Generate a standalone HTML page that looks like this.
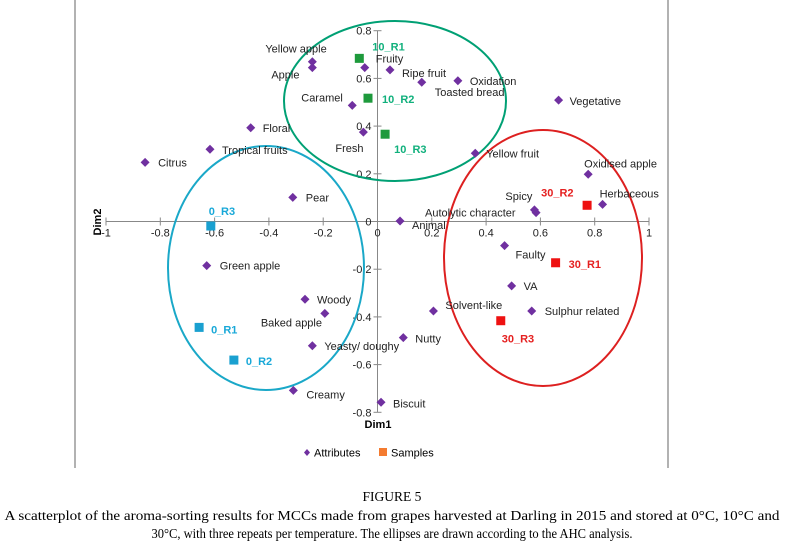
<!DOCTYPE html>
<html><head><meta charset="utf-8"><style>
html,body{margin:0;padding:0;background:#fff;}
svg{display:block;font-family:"Liberation Sans",sans-serif;}
</style></head><body>
<svg id="c" width="785" height="549">
<line x1="75" y1="0" x2="75" y2="468" stroke="#999" stroke-width="1.5"/>
<line x1="668" y1="0" x2="668" y2="468" stroke="#999" stroke-width="1.5"/>
<g id="axes"></g>
<g id="ell"></g>
<g id="pts"></g>
<text x="101" y="222" transform="rotate(-90 101 222)" text-anchor="middle" font-size="11" font-weight="bold">Dim2</text>
<text x="378" y="428" text-anchor="middle" font-size="11" font-weight="bold">Dim1</text>
<g>
<path d="M307 449 l3 3.5 l-3 3.5 l-3 -3.5z" fill="#7030a0"/>
<text x="314" y="456.5" font-size="11">Attributes</text>
<rect x="379" y="448" width="8" height="8" fill="#f47b30"/>
<text x="391" y="456.5" font-size="11">Samples</text>
</g>
<g font-family="Liberation Serif,serif" font-size="13.5" text-anchor="middle">
<text x="392" y="501">FIGURE 5</text>
<text x="392" y="520" textLength="775" lengthAdjust="spacingAndGlyphs">A scatterplot of the aroma-sorting results for MCCs made from grapes harvested at Darling in 2015 and stored at 0°C, 10°C and</text>
<text x="392" y="538" textLength="481" lengthAdjust="spacingAndGlyphs">30°C, with three repeats per temperature. The ellipses are drawn according to the AHC analysis.</text>
</g>
</svg>
<script>
const attrNames=["Yellow apple","Apple","Fruity","Ripe fruit","Toasted bread","Oxidation","Vegetative","Caramel","Fresh","Floral","Tropical fruits","Citrus","Pear","Animal","Yellow fruit","Oxidised apple","Herbaceous","Spicy","Autolytic character","Faulty","Green apple","Woody","Baked apple","Solvent-like","VA","Sulphur related","Nutty","Yeasty/ doughy","Creamy","Biscuit"];
const attrX=[-0.24,-0.24,-0.047,0.046,0.163,0.296,0.667,-0.093,-0.052,-0.467,-0.617,-0.856,-0.312,0.083,0.36,0.776,0.829,0.578,0.584,0.468,-0.629,-0.267,-0.194,0.206,0.494,0.568,0.095,-0.24,-0.31,0.013];
const attrY=[0.67,0.645,0.645,0.636,0.584,0.59,0.509,0.487,0.375,0.393,0.303,0.248,0.101,0.002,0.286,0.198,0.072,0.049,0.037,-0.101,-0.185,-0.326,-0.385,-0.375,-0.27,-0.375,-0.487,-0.521,-0.708,-0.758];
const sampleNames=["10_R1","10_R2","10_R3","0_R3","0_R1","0_R2","30_R2","30_R1","30_R3"];
const sampleX=[-0.067,-0.035,0.028,-0.614,-0.657,-0.529,0.772,0.656,0.454];
const sampleY=[0.684,0.517,0.366,-0.019,-0.444,-0.581,0.068,-0.173,-0.416];
const xTicks=[-1,-0.8,-0.6,-0.4,-0.2,0,0.2,0.4,0.6,0.8,1];
const yTicks=[-0.8,-0.6,-0.4,-0.2,0,0.2,0.4,0.6,0.8];
// styling / label offsets (pixels)
const attrOff=[[-47,-13],[-41,7],[11,-9],[12,3],[13,10],[12,0],[11,1],[-51,-8],[-28,16],[12,0],[12,1],[13,0],[13,0],[12,4],[11,0],[-4,-11],[-3,-11],[-29,-14],[-111,0],[11,9],[13,0],[12,0],[-64,9],[12,-6],[12,0],[13,0],[12,1],[12,0],[13,4],[12,1]];
const sampleOff=[[13,-12],[14,1],[9,15],[-2,-15],[12,2],[12,1],[-46,-13],[13,1],[1,18]];
const sampleFill=["#1e9a3c","#1e9a3c","#1e9a3c","#1aa0d0","#1aa0d0","#1aa0d0","#ee1111","#ee1111","#ee1111"];
const sampleText=["#10b07c","#10b07c","#10b07c","#18a8d8","#18a8d8","#18a8d8","#e52020","#e52020","#e52020"];
const X=v=>377.5+v*271.5, Y=v=>221.5-v*238.5;
const NS="http://www.w3.org/2000/svg";
function mk(t,a,p){const e=document.createElementNS(NS,t);for(const k in a)e.setAttribute(k,a[k]);p.appendChild(e);return e;}
const ax=document.getElementById('axes');
let e=mk('line',{x1:X(-1),x2:X(1),y1:Y(0),y2:Y(0),stroke:'#888'},ax);


e=mk('line',{x1:X(0),x2:X(0),y1:Y(0.8),y2:Y(-0.8),stroke:'#888'},ax);


xTicks.forEach(t=>{
 mk('line',{x1:X(t),x2:X(t),y1:Y(0)-4,y2:Y(0)+4,stroke:'#888'},ax);
 const tx=mk('text',{x:X(t),y:Y(0)+15,'font-size':11,'text-anchor':'middle',fill:'#222'},ax);tx.textContent=String(t);
 
 
});
yTicks.forEach(t=>{
 mk('line',{x1:X(0)-4,x2:X(0)+4,y1:Y(t),y2:Y(t),stroke:'#888'},ax);
 const tx=mk('text',{x:X(0)-6,y:Y(t)+4,'font-size':11,'text-anchor':'end',fill:'#222'},ax);tx.textContent=String(t);
 
 
});
const eg=document.getElementById('ell');
[[395,101,111,80,'#00a074','ellipse-10c'],[266,268,98,122,'#1aa8c8','ellipse-0c'],[543,258,99,128,'#dd2020','ellipse-30c']].forEach(a=>{
 const el=mk('ellipse',{cx:a[0],cy:a[1],rx:a[2],ry:a[3],fill:'none',stroke:a[4],'stroke-width':2},eg);
 
 
});
const pg=document.getElementById('pts');
attrNames.forEach((n,i)=>{
 const x=X(attrX[i]),y=Y(attrY[i]);
 const p=mk('path',{d:`M${x} ${y-4.5}l4.5 4.5l-4.5 4.5l-4.5 -4.5z`,fill:'#7030a0'},pg);
 
 
 const t=mk('text',{x:x+attrOff[i][0],y:y+attrOff[i][1]+4,'font-size':11,fill:'#222'},pg);t.textContent=n;
 
 
});
sampleNames.forEach((n,i)=>{
 const x=X(sampleX[i]),y=Y(sampleY[i]);
 const r=mk('rect',{x:x-4.5,y:y-4.5,width:9,height:9,fill:sampleFill[i]},pg);
 
 
 const t=mk('text',{x:x+sampleOff[i][0],y:y+sampleOff[i][1]+4,'font-size':11,'font-weight':'bold',fill:sampleText[i]},pg);t.textContent=n;
 
 
});
</script>
</body></html>
